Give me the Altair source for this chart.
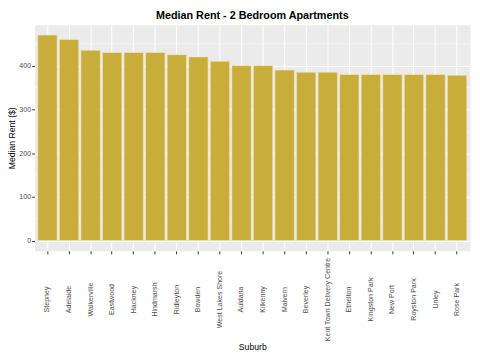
import altair as alt
import pandas as pd

suburbs = ["Stepney", "Adelaide", "Walkerville", "Eastwood", "Hackney", "Hindmarsh",
           "Ridleyton", "Bowden", "West Lakes Shore", "Auldana", "Kilkenny", "Malvern",
           "Beverley", "Kent Town Delivery Centre", "Ethelton", "Kingston Park",
           "New Port", "Royston Park", "Unley", "Rose Park"]
rents = [470, 460, 435, 430, 430, 430, 425, 420, 410, 400, 400, 390,
         385, 385, 380, 380, 380, 380, 380, 378]
minor_grid = [50, 150, 250, 350, 450]
major_ticks = [0, 100, 200, 300, 400]

df = pd.DataFrame({"Suburb": suburbs, "Rent": rents})
minor_df = pd.DataFrame({"v": minor_grid})

FONT = "Liberation Sans"
ydom = [-23.5, 493.5]
yscale = alt.Scale(domain=ydom, nice=False, zero=False)
yaxis = alt.Axis(title="Median Rent ($)", values=major_ticks, tickSize=3,
                 labelPadding=1, grid=True, gridColor="white", gridWidth=1,
                 domain=False, tickColor="#333333", labelColor="#4D4D4D",
                 labelFontSize=7.2, labelFont=FONT, titleFont=FONT,
                 titleFontSize=8.8, titleFontWeight="normal", titleColor="black",
                 titlePadding=2)

minor = alt.Chart(minor_df).mark_rule(color="white", strokeWidth=0.5).encode(
    y=alt.Y("v:Q", scale=yscale, axis=yaxis, title="Median Rent ($)")
)

bars = alt.Chart(df).mark_bar(color="#C9AD3B", stroke="#F2EAC6", strokeWidth=0.6).encode(
    x=alt.X("Suburb:N", sort=suburbs,
            scale=alt.Scale(paddingInner=0.1, paddingOuter=0.15),
            axis=alt.Axis(title="Suburb", labelAngle=270, labelAlign="center",
                          labelBaseline="middle", labelPadding=46, tickSize=3,
                          bandPosition=0.5, grid=True, gridColor="white", gridWidth=1,
                          domain=False, tickColor="#333333", labelColor="#4D4D4D",
                          labelFontSize=7.2, labelFont=FONT, titleFont=FONT,
                          titleFontSize=8.8, titleFontWeight="normal", titleColor="black",
                          titlePadding=2, labelOverlap=False)),
    y=alt.Y("Rent:Q", scale=yscale, axis=yaxis, title="Median Rent ($)"),
    y2=alt.datum(0),
)

chart = alt.layer(minor, bars).properties(
    width=443, height=230,
    title=alt.TitleParams("Median Rent - 2 Bedroom Apartments", font=FONT, fontSize=11,
                          fontWeight="bold", color="black", anchor="middle", offset=4),
    autosize=alt.AutoSizeParams(type="none"),
    padding={"left": 27, "top": 14, "right": 2, "bottom": 108},
    background="white",
).configure_view(fill="#EBEBEB", stroke="transparent")

chart.save("out.html", embed_options={"renderer": "svg", "actions": False})
